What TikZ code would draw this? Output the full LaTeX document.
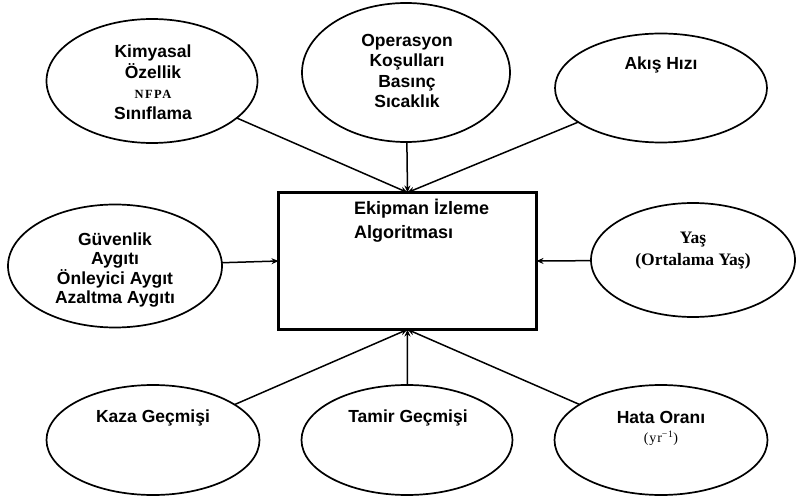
\documentclass[tikz,border=0pt]{standalone}
\usepackage{fontspec}
\setmainfont{Liberation Sans}
\newfontfamily\lserif{Liberation Serif}
\newfontfamily\lserifsp[LetterSpace=12]{Liberation Serif}
\newfontfamily\lserifsq[LetterSpace=6]{Liberation Serif}
\usetikzlibrary{arrows.meta,shapes.geometric}
\begin{document}
\begin{tikzpicture}[x=1pt,y=-1pt,
  bub/.style={draw,ellipse,line width=1.7pt,inner sep=0pt,outer sep=0pt},
  lab/.style={align=center,font=\fontsize{17.5}{20.5}\selectfont\bfseries,inner sep=0pt},
  conn/.style={line width=1.5pt,-{Stealth[length=7pt,width=6pt]}}]
\useasboundingbox (0,0) rectangle (797,502);
% central box
\node[draw,line width=3.5pt,minimum width=258pt,minimum height=137pt,inner sep=0pt,outer sep=0pt] (box) at (407.5,261) {};
\node[anchor=north west,align=left,inner sep=0pt,font=\fontsize{18}{24}\selectfont\bfseries] (boxt) at (354,199) {Ekipman İzleme\\Algoritması};
% ellipses
\node[bub,minimum width=211pt,minimum height=124pt] (kim) at (152,81) {};
\node[bub,minimum width=208pt,minimum height=139pt] (ope) at (406,72.5) {};
\node[bub,minimum width=212pt,minimum height=109pt] (aki) at (661,88) {};
\node[bub,minimum width=214pt,minimum height=123pt] (guv) at (115,266) {};
\node[bub,minimum width=204pt,minimum height=114pt] (yas) at (693,260) {};
\node[bub,minimum width=213pt,minimum height=110pt] (kaz) at (153,440) {};
\node[bub,minimum width=211pt,minimum height=110pt] (tam) at (407,440) {};
\node[bub,minimum width=213pt,minimum height=110pt] (hat) at (661,440) {};
% labels
\node[lab] (kimt) at (153,82) {Kimyasal\\Özellik\\{\lserifsp\fontsize{12.5}{20.5}\selectfont NFPA}\\Sınıflama};
\node[lab] (opet) at (407,71) {Operasyon\\Koşulları\\Basınç\\Sıcaklık};
\node[lab] (akit) at (661,65) {Akış Hızı};
\node[lab,font=\fontsize{17.5}{19.5}\selectfont\bfseries] (guvt) at (115,270) {Güvenlik\\Aygıtı\\Önleyici Aygıt\\Azaltma Aygıtı};
\node[lab,font=\fontsize{17.5}{22}\selectfont\bfseries\lserif] (yast) at (693,251) {Yaş\\(Ortalama Yaş)};
\node[lab] (kazt) at (153,418) {Kaza Geçmişi};
\node[lab] (tamt) at (408,418) {Tamir Geçmişi};
\node[lab] (hatt) at (661,417) {Hata Oranı};
\node[inner sep=0pt,font=\lserifsq\fontsize{14}{16}\selectfont] (hatu) at (661,438) {(yr\textsuperscript{−1})};
% connectors
\draw[conn] (kim) -- (box.north);
\draw[conn] (ope) -- (box.north);
\draw[conn] (aki) -- (box.north);
\draw[conn] (guv) -- (box.west);
\draw[conn] (yas) -- (box.east);
\draw[conn] (kaz) -- (box.south);
\draw[conn] (tam) -- (box.south);
\draw[conn] (hat) -- (box.south);
\end{tikzpicture}
\end{document}
